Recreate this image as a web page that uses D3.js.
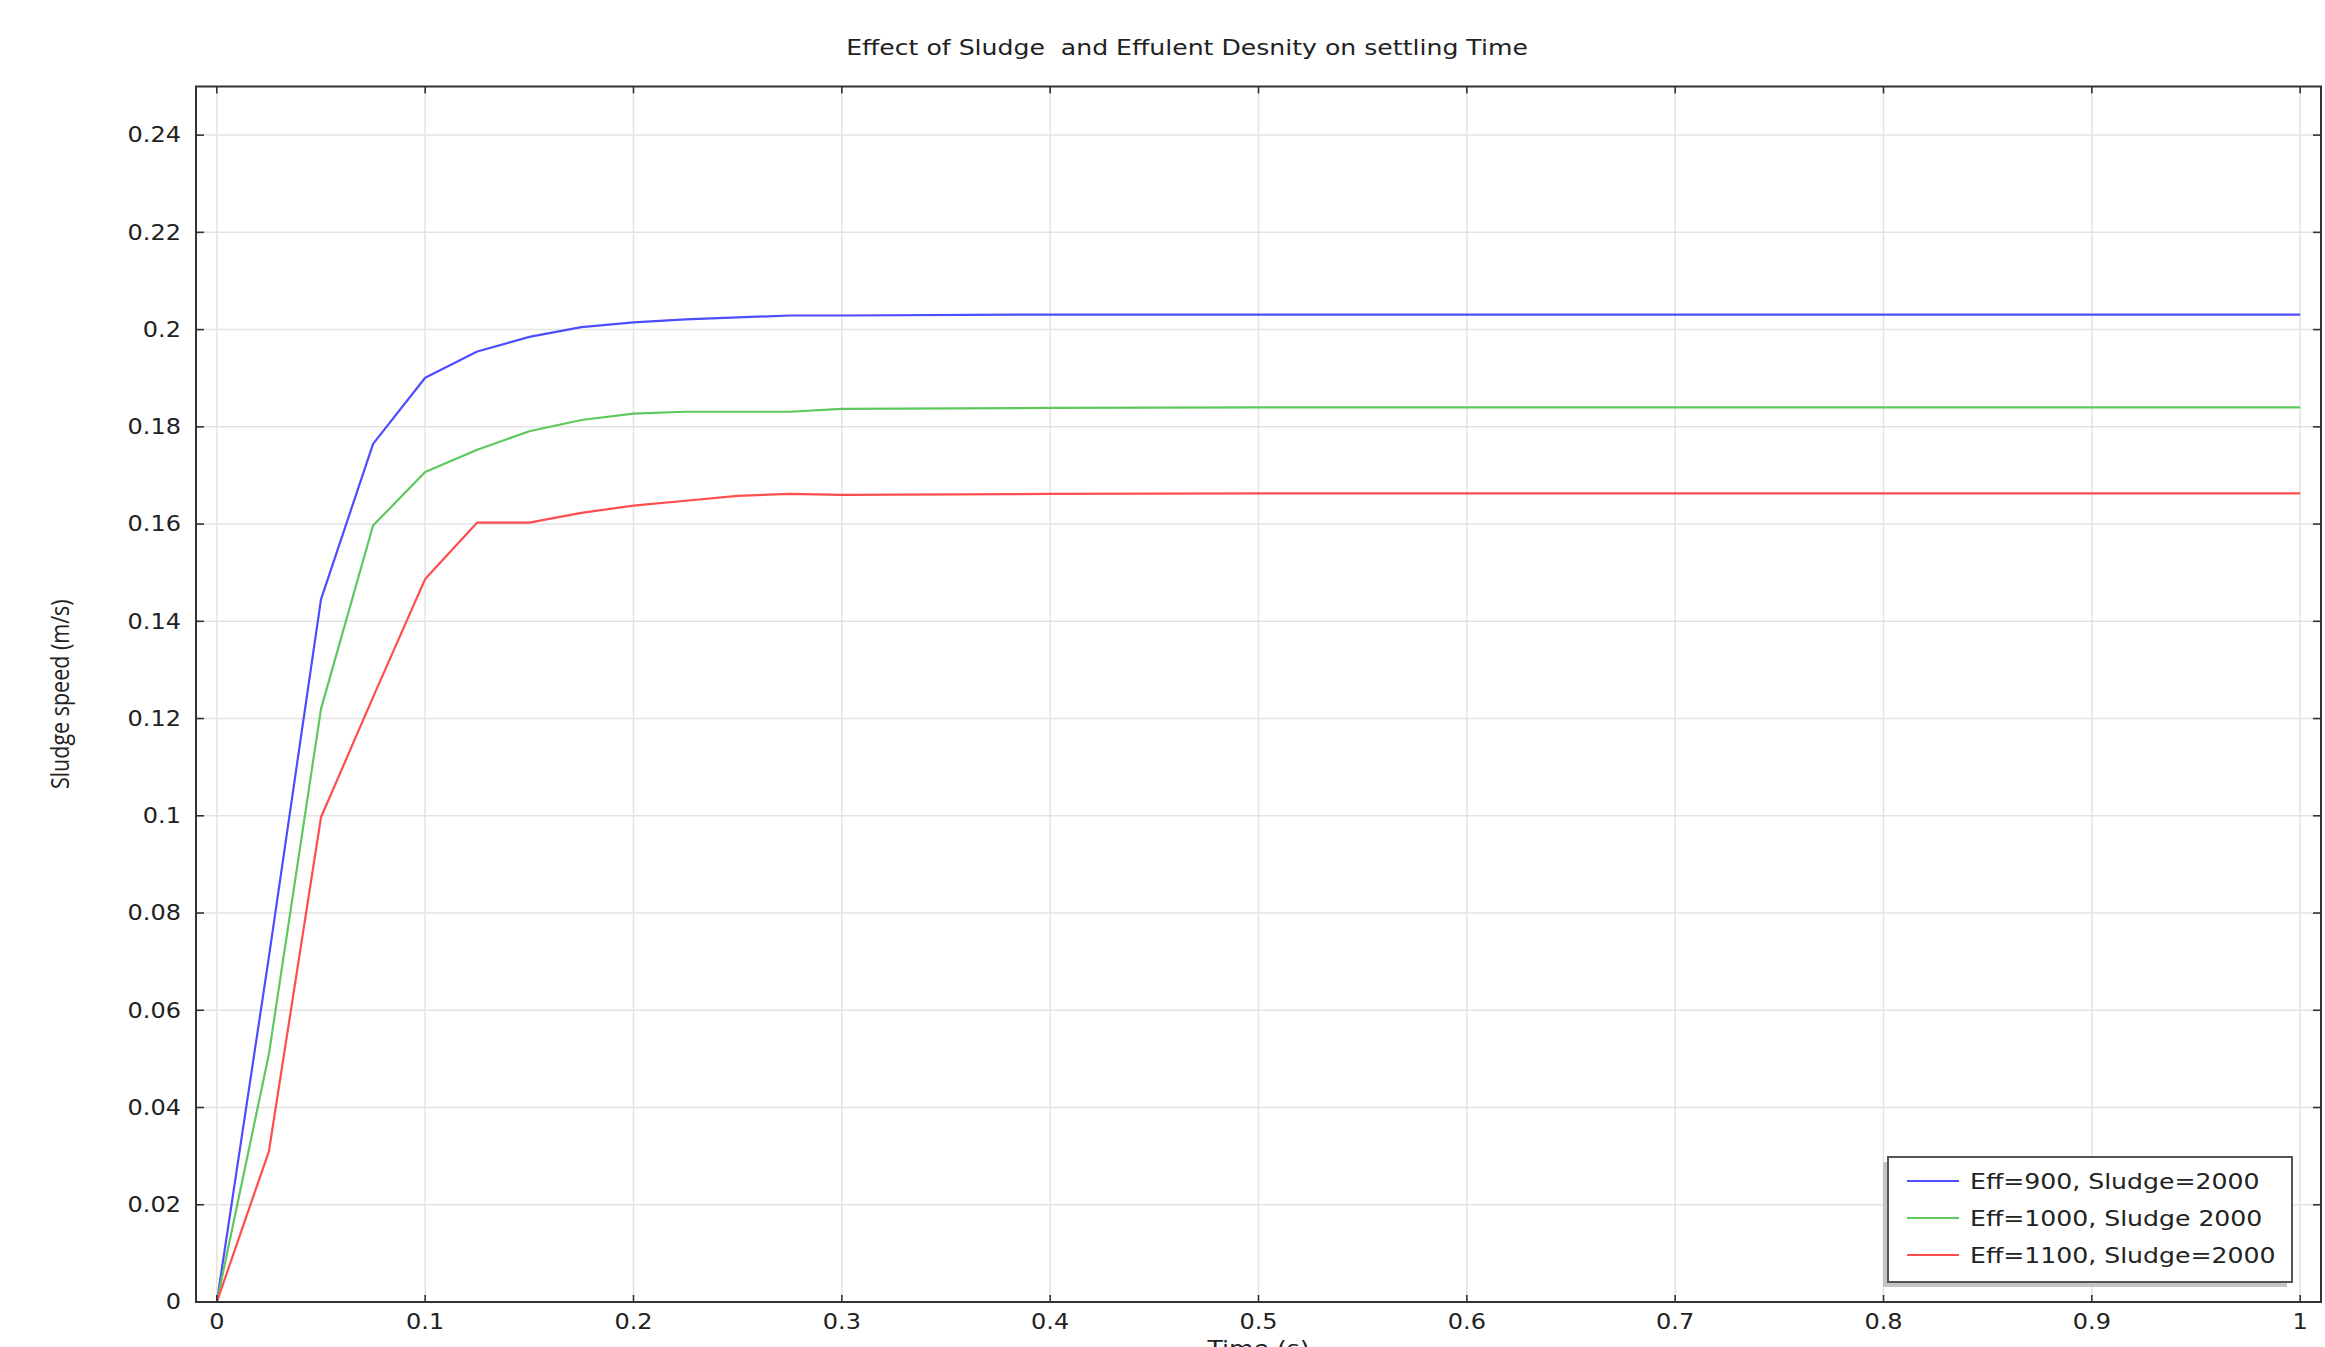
<!DOCTYPE html>
<html>
<head>
<meta charset="utf-8">
<script src="https://cdn.jsdelivr.net/npm/d3@7"></script>
<style>
  html, body { margin: 0; padding: 0; background: #fff; }
  svg { display: block; }
</style>
</head>
<body>
<svg id="chart" width="2325" height="1347"></svg>
<script>
// time steps (s)
const times = [0, 0.025, 0.05, 0.075, 0.1, 0.125, 0.15, 0.175, 0.2, 0.225, 0.25, 0.275, 0.3, 0.4, 0.5, 0.6, 0.7, 0.8, 0.9, 1.0];
// sludge speed (m/s) per case
const eff900 = [0, 0.071, 0.1445, 0.1765, 0.1901, 0.1955, 0.1985, 0.2005, 0.2015, 0.2021, 0.2025, 0.2029, 0.2029, 0.2031, 0.2031, 0.2031, 0.2031, 0.2031, 0.2031, 0.2031];
const eff1000 = [0, 0.051, 0.122, 0.1597, 0.1707, 0.1753, 0.1791, 0.1814, 0.1827, 0.1831, 0.1831, 0.1831, 0.1837, 0.1839, 0.184, 0.184, 0.184, 0.184, 0.184, 0.184];
const eff1100 = [0, 0.031, 0.0997, 0.1244, 0.1487, 0.1603, 0.1603, 0.1623, 0.1638, 0.1648, 0.1658, 0.1662, 0.166, 0.1662, 0.1663, 0.1663, 0.1663, 0.1663, 0.1663, 0.1663];
const seriesNames = ["Eff=900, Sludge=2000", "Eff=1000, Sludge 2000", "Eff=1100, Sludge=2000"];
const seriesColors = ["#4d4dff", "#5ec85e", "#ff4d4d"];
const xTicks = [0, 0.1, 0.2, 0.3, 0.4, 0.5, 0.6, 0.7, 0.8, 0.9, 1];
const yTicks = [0, 0.02, 0.04, 0.06, 0.08, 0.1, 0.12, 0.14, 0.16, 0.18, 0.2, 0.22, 0.24];

const svg = d3.select("#chart");
const pL = 196, pR = 2321, pT = 86.5, pB = 1302;
const stretch = 1.17; // text in the picture is a bit wide
const font = "'DejaVu Sans', sans-serif";

const x = d3.scaleLinear().domain([-0.01, 1.01]).range([pL, pR]);
const y = d3.scaleLinear().domain([0, 0.25]).range([pB, pT]);
const fmt = d3.format("~g");

// grid
svg.append("g").selectAll("line").data(xTicks).enter().append("line")
    .attr("x1", d => x(d)).attr("x2", d => x(d))
    .attr("y1", pT).attr("y2", pB)
    .attr("stroke", "#e3e3e3").attr("stroke-width", 1.5);
svg.append("g").selectAll("line").data(yTicks).enter().append("line")
    .attr("x1", pL).attr("x2", pR)
    .attr("y1", d => y(d)).attr("y2", d => y(d))
    .attr("stroke", "#e3e3e3").attr("stroke-width", 1.5);

// data lines
svg.append("clipPath").attr("id", "clip").append("rect")
    .attr("x", pL).attr("y", pT).attr("width", pR - pL).attr("height", pB - pT);

const series = [eff900, eff1000, eff1100];
const line = d3.line().x((d, i) => x(times[i])).y(d => y(d));
svg.append("g").attr("clip-path", "url(#clip)")
    .selectAll("path").data(series).enter().append("path")
    .attr("d", line)
    .attr("fill", "none")
    .attr("stroke", (d, i) => seriesColors[i])
    .attr("stroke-width", 2.2)
    .attr("stroke-linejoin", "round");

// frame + inward ticks on all four sides
const axisCol = "#333";
svg.append("rect")
    .attr("x", pL).attr("y", pT).attr("width", pR - pL).attr("height", pB - pT)
    .attr("fill", "none").attr("stroke", axisCol).attr("stroke-width", 2);

const ticks = svg.append("g").attr("stroke", axisCol).attr("stroke-width", 1.6);
xTicks.forEach(t => {
    ticks.append("line").attr("x1", x(t)).attr("x2", x(t)).attr("y1", pB).attr("y2", pB - 7);
    ticks.append("line").attr("x1", x(t)).attr("x2", x(t)).attr("y1", pT).attr("y2", pT + 7);
});
yTicks.forEach(t => {
    ticks.append("line").attr("x1", pL).attr("x2", pL + 8).attr("y1", y(t)).attr("y2", y(t));
    ticks.append("line").attr("x1", pR).attr("x2", pR - 8).attr("y1", y(t)).attr("y2", y(t));
});

// tick labels
svg.append("g").selectAll("text").data(xTicks).enter().append("text")
    .attr("transform", d => `translate(${x(d)},1329) scale(${stretch},1)`)
    .attr("text-anchor", "middle")
    .attr("font-family", font).attr("font-size", 20.5).attr("fill", "#222")
    .text(d => fmt(d));
svg.append("g").selectAll("text").data(yTicks).enter().append("text")
    .attr("transform", d => `translate(181,${y(d) + 7.3}) scale(${stretch},1)`)
    .attr("text-anchor", "end")
    .attr("font-family", font).attr("font-size", 20.5).attr("fill", "#222")
    .text(d => fmt(d));

// title and axis titles
svg.append("text")
    .attr("transform", `translate(1187,55) scale(${stretch},1)`)
    .attr("text-anchor", "middle")
    .attr("font-family", font).attr("font-size", 21.5).attr("fill", "#222")
    .style("white-space", "pre")
    .text("Effect of Sludge  and Effulent Desnity on settling Time");

// the x title is cut by the bottom edge in the original too
svg.append("text")
    .attr("transform", `translate(${(pL + pR) / 2},1356) scale(${stretch},1)`)
    .attr("text-anchor", "middle")
    .attr("font-family", font).attr("font-size", 21.5).attr("fill", "#222")
    .text("Time (s)");

svg.append("text")
    .attr("transform", `translate(69,${(pT + pB) / 2}) scale(${stretch},1) rotate(-90)`)
    .attr("text-anchor", "middle")
    .attr("font-family", "'Open Sans', sans-serif").attr("font-size", 21.5).attr("fill", "#222")
    .text("Sludge speed (m/s)");

// legend
const lg = svg.append("g").attr("transform", "translate(1888,1157)");
lg.append("rect").attr("x", -5).attr("y", 5).attr("width", 404).attr("height", 125)
    .attr("fill", "#c4c4c4");
lg.append("rect").attr("x", 0).attr("y", 0).attr("width", 404).attr("height", 125)
    .attr("fill", "#fff").attr("stroke", "#555").attr("stroke-width", 2);
const rows = lg.selectAll("g.row").data(seriesNames).enter().append("g")
    .attr("class", "row")
    .attr("transform", (d, i) => `translate(0,${24 + i * 37})`);
rows.append("line").attr("x1", 19).attr("x2", 71).attr("y1", 0).attr("y2", 0)
    .attr("stroke", (d, i) => seriesColors[i]).attr("stroke-width", 2.2);
rows.append("text")
    .attr("transform", `translate(82,7.8) scale(${stretch},1)`)
    .attr("font-family", font).attr("font-size", 21.5).attr("fill", "#222")
    .text(d => d);
</script>
</body>
</html>
